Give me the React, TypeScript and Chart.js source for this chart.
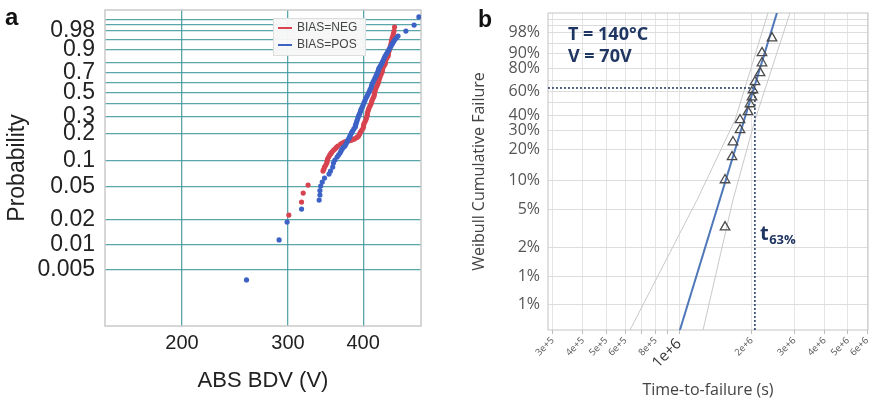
import React, { useEffect, useRef } from 'react';
import { Chart, registerables } from 'chart.js';

Chart.register(...registerables);

// ---------- Panel a: Weibull plot of ABS BDV ----------
// [BDV (V), cumulative probability]
const POS_POINTS: [number, number][] = [
  [256, 0.0038], [290, 0.0115], [299, 0.0188], [316, 0.0269], [338, 0.0344], [339, 0.0395], [339, 0.0445],
  [340, 0.0504], [342, 0.0561], [345, 0.0625], [351, 0.0695], [353, 0.0754], [356, 0.0839], [357, 0.0933],
  [359, 0.1009], [362, 0.1093], [364, 0.115], [366, 0.1212], [367.5, 0.128], [369, 0.1345], [370.5, 0.14],
  [373, 0.1452], [374.5, 0.153], [376, 0.161], [377.5, 0.17], [379, 0.178], [380, 0.185], [381, 0.192],
  [382.5, 0.202], [384, 0.212], [386, 0.223], [388, 0.234], [388.5, 0.243], [389, 0.251], [390, 0.263],
  [391, 0.276], [392, 0.29], [393, 0.303], [394, 0.314], [395, 0.325], [396, 0.34], [397, 0.355],
  [398.5, 0.37], [400, 0.388], [401.5, 0.41], [403, 0.431], [404.5, 0.45], [406, 0.467], [407.5, 0.485],
  [409, 0.505], [410.5, 0.525], [412, 0.544], [413, 0.565], [414, 0.585], [415.5, 0.605], [417, 0.625],
  [418.5, 0.645], [420, 0.666], [421.5, 0.687], [423, 0.707], [424, 0.727], [425, 0.746], [427, 0.765],
  [429, 0.784], [430.5, 0.8], [432, 0.819], [433.5, 0.836], [435, 0.852], [437, 0.867], [439, 0.882],
  [441, 0.895], [443, 0.908], [445, 0.92], [447, 0.931], [449, 0.94], [451, 0.949], [454, 0.957],
  [457, 0.964], [471, 0.978], [486, 0.989], [495, 0.9965],
];
const NEG_POINTS: [number, number][] = [
  [301, 0.0228], [316, 0.0326], [318, 0.0416], [324, 0.0517], [343, 0.0754], [344, 0.079], [345, 0.0839],
  [346.5, 0.088], [348, 0.0933], [348.5, 0.098], [349, 0.1036], [350.5, 0.109], [352, 0.115], [353.5, 0.12],
  [355, 0.1242], [357, 0.13], [359, 0.1345], [361, 0.14], [363, 0.1452], [367, 0.153], [369.5, 0.157],
  [372, 0.161], [374.5, 0.163], [377, 0.165], [380, 0.167], [383, 0.169], [386, 0.173], [389, 0.178],
  [391, 0.182], [393, 0.187], [394.5, 0.197], [396, 0.207], [398, 0.217], [400, 0.228], [400.5, 0.24],
  [401, 0.251], [402.5, 0.263], [404, 0.276], [405, 0.29], [406, 0.303], [406.5, 0.318], [407, 0.332],
  [408, 0.348], [409, 0.363], [410.5, 0.38], [412, 0.396], [413, 0.413], [414, 0.431], [415.5, 0.449],
  [417, 0.467], [417.5, 0.486], [418, 0.505], [419, 0.525], [420, 0.544], [421.5, 0.565], [423, 0.585],
  [424, 0.605], [425, 0.625], [426, 0.645], [427, 0.666], [428.5, 0.687], [430, 0.707], [430.5, 0.727],
  [431, 0.746], [433, 0.765], [435, 0.784], [435.5, 0.8], [436, 0.819], [438, 0.836], [440, 0.852],
  [440.5, 0.867], [441, 0.882], [442, 0.895], [443, 0.908], [444, 0.92], [445, 0.931], [445.5, 0.94],
  [446, 0.949], [447, 0.957], [448, 0.964], [449, 0.971], [450, 0.978], [451, 0.986],
];
const A_SERIES_LABELS = ['BIAS=NEG', 'BIAS=POS'];
const A_X_RANGE = [149, 499];
const A_X_TICKS = [200, 300, 400];
const A_P_RANGE = [0.00106, 0.99895];
const A_GRID_PROB = [0.005, 0.01, 0.02, 0.05, 0.1, 0.2, 0.3, 0.4, 0.5, 0.6, 0.7, 0.8, 0.9, 0.95, 0.98, 0.99, 0.995];
const A_GRID_LABELS = ['0.005', '0.01', '0.02', '0.05', '0.1', '0.2', '0.3', '', '0.5', '', '0.7', '', '0.9', '', '0.98', '', ''];

// ---------- Panel b: Weibull cumulative failure ----------
// [time-to-failure (s), cumulative failure]
const B_POINTS: [number, number][] = [
  [1.55e6, 0.0328], [1.55e6, 0.1], [1.657e6, 0.169], [1.672e6, 0.234], [1.788e6, 0.301], [1.788e6, 0.367],
  [1.929e6, 0.427], [1.966e6, 0.491], [2.004e6, 0.551], [2.023e6, 0.614], [2.062e6, 0.686], [2.163e6, 0.764],
  [2.204e6, 0.841], [2.204e6, 0.905], [2.425e6, 0.966],
];
const B_FIT: [number, number][] = [[0.95e6, 0.00163], [2.7e6, 0.99997]];
const B_LOWER: [number, number][] = [[6.27e5, 0.00269], [1.187e6, 0.0626], [1.705e6, 0.367], [2.334e6, 0.9981]];
const B_UPPER: [number, number][] = [[1.257e6, 0.00269], [1.672e6, 0.0626], [2.062e6, 0.367], [2.878e6, 0.9981]];
const B_T63: [number, number] = [2.06e6, 0.632];
const B_X_RANGE = [2.871e5, 6.05e6];
const B_P_RANGE = [0.00269, 0.99807];
const B_X_TICKS = [3e5, 4e5, 5e5, 6e5, 7e5, 8e5, 9e5, 1e6, 2e6, 3e6, 4e6, 5e6, 6e6];
const B_X_LABELS = ['3e+5', '4e+5', '5e+5', '6e+5', '', '8e+5', '', '1e+6', '2e+6', '3e+6', '4e+6', '5e+6', '6e+6'];
const B_GRID_PROB = [0.005, 0.01, 0.02, 0.05, 0.1, 0.2, 0.3, 0.4, 0.5, 0.6, 0.7, 0.8, 0.9, 0.95, 0.98, 0.99, 0.995];
const B_GRID_LABELS = ['1%', '1%', '2%', '5%', '10%', '20%', '30%', '40%', '', '60%', '', '80%', '90%', '', '98%', '', ''];

const wb = (p: number) => Math.log(-Math.log(1 - p));
const toXY = (pts: [number, number][]) => pts.map(([x, p]) => ({ x, y: wb(p) }));

const ARIAL = "'Liberation Sans', Arial, sans-serif";
const OPEN = "'Open Sans', 'Noto Sans', sans-serif";
const RED = '#d7434f';
const BLUE = '#3d62c6';
const TEAL = 'rgba(62,150,156,0.85)';
const NAVY = '#1f3562';

const noPadY = (w: number) => (s: any) => {
  s.width = w;
  s.paddingTop = 0;
  s.paddingBottom = 0;
};
const noPadX = (h: number) => (s: any) => {
  s.height = h;
  s.paddingLeft = 0;
  s.paddingRight = 0;
};

const framePlugin = (color: string, width: number) => ({
  id: 'frame',
  beforeDatasetsDraw(chart: any) {
    const { ctx, chartArea } = chart;
    const { left, top, right, bottom } = chartArea;
    ctx.save();
    ctx.strokeStyle = color;
    ctx.lineWidth = width;
    ctx.strokeRect(left, top, right - left, bottom - top);
    ctx.restore();
  },
});

const panelAExtras = {
  id: 'panelAExtras',
  afterDraw(chart: any) {
    const { ctx } = chart;
    ctx.save();
    ctx.fillStyle = '#111';
    ctx.font = `bold 24px ${ARIAL}`;
    ctx.textBaseline = 'alphabetic';
    ctx.fillText('a', 5, 25);
    // legend inside plot
    ctx.fillStyle = 'rgba(247,247,247,0.97)';
    ctx.fillRect(273, 18, 92, 37);
    ctx.strokeStyle = '#dedede';
    ctx.lineWidth = 1;
    ctx.strokeRect(273.5, 18.5, 92, 37);
    A_SERIES_LABELS.forEach((lab, i) => {
      const ds = chart.data.datasets.find((d: any) => d.label === lab);
      const y = 28 + i * 17;
      ctx.strokeStyle = ds.pointBackgroundColor;
      ctx.lineWidth = 2;
      ctx.beginPath();
      ctx.moveTo(278, y);
      ctx.lineTo(292, y);
      ctx.stroke();
      ctx.fillStyle = '#444';
      ctx.font = `12px ${ARIAL}`;
      ctx.textBaseline = 'middle';
      ctx.fillText(lab, 297, y);
    });
    ctx.restore();
  },
};

const panelBExtras = {
  id: 'panelBExtras',
  afterDraw(chart: any) {
    const { ctx } = chart;
    ctx.save();
    ctx.fillStyle = '#111';
    ctx.font = `bold 23px ${ARIAL}`;
    ctx.fillText('b', 41, 27);
    ctx.fillStyle = NAVY;
    ctx.font = `bold 18px ${OPEN}`;
    ctx.fillText('T = 140°C', 131, 40);
    ctx.fillText('V = 70V', 131, 62);
    ctx.font = `bold 20px ${OPEN}`;
    ctx.fillText('t', 323, 240);
    const w = ctx.measureText('t').width;
    ctx.font = `bold 13px ${OPEN}`;
    ctx.fillText('63%', 323 + w + 0.5, 244);
    ctx.restore();
  },
};

function buildA(canvas: HTMLCanvasElement) {
  return new Chart(canvas, {
    type: 'scatter',
    data: {
      datasets: [
        {
          label: A_SERIES_LABELS[1],
          data: toXY(POS_POINTS),
          pointBackgroundColor: BLUE,
          pointBorderColor: BLUE,
          pointBorderWidth: 0,
          pointRadius: 2.6,
        } as any,
        {
          label: A_SERIES_LABELS[0],
          data: toXY(NEG_POINTS),
          pointBackgroundColor: RED,
          pointBorderColor: RED,
          pointBorderWidth: 0,
          pointRadius: 2.6,
        } as any,
      ],
    },
    options: {
      responsive: false,
      animation: false,
      layout: { padding: { left: 0, right: 16, top: 10, bottom: 0 } },
      plugins: { legend: { display: false }, tooltip: { enabled: false } },
      scales: {
        x: {
          type: 'logarithmic',
          min: A_X_RANGE[0],
          max: A_X_RANGE[1],
          afterFit: noPadX(75),
          afterBuildTicks: (s: any) => { s.ticks = A_X_TICKS.map((v) => ({ value: v })); },
          ticks: {
            callback: (_v: any, i: number) => String(A_X_TICKS[i]),
            font: { family: ARIAL, size: 20 },
            color: '#222',
            padding: 5,
            autoSkip: false,
            maxRotation: 0,
            minRotation: 0,
          },
          grid: { color: TEAL, lineWidth: 1.3, drawTicks: false },
          border: { display: false },
          title: {
            display: true,
            text: 'ABS BDV (V)',
            font: { family: ARIAL, size: 22 },
            color: '#222',
            padding: { top: 0, bottom: 7 },
          },
        } as any,
        y: {
          type: 'linear',
          min: wb(A_P_RANGE[0]),
          max: wb(A_P_RANGE[1]),
          afterFit: noPadY(105),
          afterBuildTicks: (s: any) => { s.ticks = A_GRID_PROB.map((p) => ({ value: wb(p) })); },
          ticks: {
            callback: (_v: any, i: number) => A_GRID_LABELS[i],
            font: { family: ARIAL, size: 23 },
            color: '#222',
            padding: 10,
            autoSkip: false,
          },
          grid: { color: TEAL, lineWidth: 1.3, drawTicks: false },
          border: { display: false },
          title: {
            display: true,
            text: 'Probability',
            font: { family: ARIAL, size: 23 },
            color: '#222',
            padding: { top: 4, bottom: 0 },
          },
        } as any,
      },
    },
    plugins: [framePlugin('#c9c9c9', 1.5), panelAExtras],
  });
}

function buildB(canvas: HTMLCanvasElement) {
  const y63 = wb(B_T63[1]);
  return new Chart(canvas, {
    type: 'scatter',
    data: {
      datasets: [
        {
          label: 'Observed',
          data: toXY(B_POINTS),
          pointStyle: 'triangle',
          pointRadius: 5.5,
          pointBackgroundColor: 'rgba(255,255,255,0)',
          pointBorderColor: '#4a4a4a',
          pointBorderWidth: 1.3,
        } as any,
        {
          label: 'Fit',
          data: toXY(B_FIT),
          showLine: true,
          borderColor: '#4f78b8',
          borderWidth: 2,
          pointRadius: 0,
        } as any,
        {
          label: 't63 horizontal',
          data: [{ x: B_X_RANGE[0], y: y63 }, { x: B_T63[0], y: y63 }],
          showLine: true,
          borderColor: NAVY,
          borderWidth: 1.5,
          borderDash: [2, 2],
          pointRadius: 0,
        } as any,
        {
          label: 't63 vertical',
          data: [{ x: B_T63[0], y: y63 }, { x: B_T63[0], y: wb(B_P_RANGE[0]) }],
          showLine: true,
          borderColor: NAVY,
          borderWidth: 1.5,
          borderDash: [2, 2],
          pointRadius: 0,
        } as any,
        {
          label: 'Lower bound',
          data: toXY(B_LOWER),
          showLine: true,
          borderColor: '#c9c9c9',
          borderWidth: 1,
          pointRadius: 0,
        } as any,
        {
          label: 'Upper bound',
          data: toXY(B_UPPER),
          showLine: true,
          borderColor: '#c9c9c9',
          borderWidth: 1,
          pointRadius: 0,
        } as any,
      ],
    },
    options: {
      responsive: false,
      animation: false,
      layout: { padding: { left: 0, right: 7, top: 13, bottom: 0 } },
      plugins: { legend: { display: false }, tooltip: { enabled: false } },
      scales: {
        x: {
          type: 'logarithmic',
          min: B_X_RANGE[0],
          max: B_X_RANGE[1],
          afterFit: noPadX(71),
          afterBuildTicks: (s: any) => { s.ticks = B_X_TICKS.map((v) => ({ value: v })); },
          ticks: {
            callback: (_v: any, i: number) => B_X_LABELS[i],
            font: (c: any) =>
              c.tick && c.tick.value === 1e6 ? { family: OPEN, size: 15 } : { family: OPEN, size: 9.5 },
            color: (c: any) => (c.tick && c.tick.value === 1e6 ? '#333' : '#555'),
            padding: 1,
            autoSkip: false,
            maxRotation: 45,
            minRotation: 45,
          },
          grid: { color: '#e4e4e4', lineWidth: 1, drawTicks: true, tickLength: 4, tickColor: '#bbbbbb' },
          border: { display: false },
          title: {
            display: true,
            text: 'Time-to-failure (s)',
            font: { family: OPEN, size: 16 },
            color: '#444',
            padding: { top: 0, bottom: 1 },
          },
        } as any,
        y: {
          type: 'linear',
          min: wb(B_P_RANGE[0]),
          max: wb(B_P_RANGE[1]),
          afterFit: noPadY(111),
          afterBuildTicks: (s: any) => { s.ticks = B_GRID_PROB.map((p) => ({ value: wb(p) })); },
          ticks: {
            callback: (_v: any, i: number) => B_GRID_LABELS[i],
            font: { family: OPEN, size: 16 },
            color: '#555',
            padding: 8,
            autoSkip: false,
          },
          grid: { color: '#dddddd', lineWidth: 1, drawTicks: false },
          border: { display: false },
          title: {
            display: true,
            text: 'Weibull Cumulative Failure',
            font: { family: OPEN, size: 16 },
            color: '#444',
            padding: { top: 33, bottom: 0 },
          },
        } as any,
      },
    },
    plugins: [framePlugin('#c4c4c4', 1), panelBExtras],
  });
}

export default function App() {
  const refA = useRef<HTMLCanvasElement>(null);
  const refB = useRef<HTMLCanvasElement>(null);
  useEffect(() => {
    const a = buildA(refA.current!);
    const b = buildB(refB.current!);
    return () => {
      a.destroy();
      b.destroy();
    };
  }, []);
  return (
    <div style={{ position: 'absolute', left: 0, top: 0, width: 875, height: 401, background: '#fff' }}>
      <canvas ref={refA} width={437} height={401} style={{ position: 'absolute', left: 0, top: 0 }} />
      <canvas ref={refB} width={438} height={401} style={{ position: 'absolute', left: 437, top: 0 }} />
    </div>
  );
}
